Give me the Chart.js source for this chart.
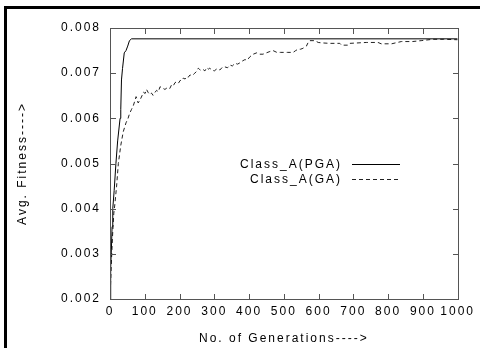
<!DOCTYPE html>
<html>
<head>
<meta charset="utf-8">
<script src="https://cdn.jsdelivr.net/npm/chart.js@4.4.1/dist/chart.umd.min.js"></script>
<style>
  html, body { margin: 0; padding: 0; background: #fff; overflow: hidden; }
  #wrap { position: absolute; left: 0; top: 0; width: 480px; height: 348px; }
  #axes { position: absolute; left: 0; top: 0; width: 480px; height: 348px; pointer-events: none; }
  #axes div { position: absolute; box-sizing: border-box; }
  #axes .box { border: 1px solid #555; }
  #axes .tick { background: #555; }
  #frame { position: absolute; left: 4px; top: 6px; width: 490px; height: 360px; border-left: 3px solid #000; border-top: 3px solid #000; }
</style>
</head>
<body>
<div id="wrap"><canvas id="fitChart"></canvas></div>
<div id="axes"></div>
<div id="frame"></div>
<script>
// ===== data =====
const pgaGen = [0, 2, 4, 6, 8, 12, 17, 22, 29, 31, 33, 36, 41, 46, 51, 56, 62, 1000];
const pgaFit = [0.0020, 0.0027, 0.0031, 0.0036, 0.0040, 0.0044, 0.0050, 0.0055, 0.0060, 0.0062,
                0.00685, 0.0071, 0.00745, 0.0075, 0.0076, 0.00772, 0.00776, 0.00776];

const gaGen = [0, 3, 5, 8, 11, 14, 19, 24, 31, 38, 46, 52, 56, 62, 67, 72, 75, 78, 81, 86,
               92, 96, 101, 105, 110, 114, 119, 124, 129, 134, 139, 144, 151, 158, 165, 172, 177, 182, 187, 192,
               197, 202, 206, 211, 216, 220, 225, 230, 237, 244, 249, 254, 258, 262, 268, 273, 278, 283, 287, 293,
               300, 308, 316, 323, 330, 338, 345, 352, 360, 367, 374, 381, 388, 395, 402, 412, 422, 431, 440, 450,
               460, 469, 480, 490, 498, 510, 527, 534, 541, 548, 555, 565, 570, 575, 589, 599, 610, 632, 661, 666,
               685, 690, 737, 771, 780, 810, 838, 870, 895, 929, 960, 1000];
const gaFit = [0.0020, 0.0026, 0.0030, 0.0035, 0.0039, 0.0041, 0.0045, 0.0050, 0.0054, 0.0057,
               0.0059, 0.0060, 0.0061, 0.0062, 0.00628, 0.0064, 0.00648, 0.00642, 0.00634, 0.0064,
               0.0065, 0.00658, 0.00655, 0.00664, 0.00657, 0.00653, 0.00656, 0.00651, 0.00657, 0.00662,
               0.00659, 0.0067, 0.00667, 0.00664, 0.00668, 0.00666, 0.00674, 0.00672, 0.00679, 0.00681,
               0.00678, 0.00684, 0.00683, 0.00689, 0.00687, 0.00692, 0.00691, 0.00696, 0.00695, 0.0070,
               0.00704, 0.00711, 0.00708, 0.00706, 0.00708, 0.00705, 0.00712, 0.00709, 0.00711, 0.00707,
               0.00705, 0.0071, 0.00707, 0.00713, 0.00714, 0.00712, 0.00718, 0.00716, 0.00722, 0.0072,
               0.00723, 0.00727, 0.0073, 0.00729, 0.00736, 0.00742, 0.00745, 0.00742, 0.00742, 0.00745,
               0.00748, 0.0075, 0.00746, 0.00746, 0.00746, 0.00746, 0.00746, 0.0075, 0.00753, 0.00753,
               0.00755, 0.0076, 0.00768, 0.00772, 0.00772, 0.00768, 0.00767, 0.00766, 0.00766, 0.00762,
               0.00762, 0.00766, 0.00768, 0.00768, 0.00765, 0.00765, 0.0077, 0.0077, 0.00772, 0.00775,
               0.00775, 0.00774];

const seriesLabels = ['Class_A(PGA)', 'Class_A(GA)'];
const xTitle = 'No. of Generations---->';
const yTitle = 'Avg. Fitness---->';

const FONT = '"Liberation Sans", Arial, sans-serif';
const SPACING = '2px'; // the scanned font is much wider than Arial

// wide lettering for every text the chart measures and draws
const spacingPlugin = {
  id: 'spacing',
  beforeUpdate(chart) { chart.ctx.letterSpacing = SPACING; },
  beforeDraw(chart) { chart.ctx.letterSpacing = SPACING; }
};

// gnuplot style key on the canvas
const keyPlugin = {
  id: 'key',
  afterDraw(chart) {
    const ctx = chart.ctx;
    ctx.save();
    ctx.font = '12px ' + FONT;
    ctx.textAlign = 'right';
    ctx.textBaseline = 'middle';
    chart.data.datasets.forEach((ds, i) => {
      const yy = 164.5 + i * 15;
      ctx.fillStyle = '#000';
      ctx.fillText(ds.label, 342, yy);
      ctx.strokeStyle = ds.borderColor;
      ctx.lineWidth = 1;
      ctx.setLineDash(ds.borderDash || []);
      ctx.beginPath();
      ctx.moveTo(352, yy); ctx.lineTo(400, yy);
      ctx.stroke();
    });
    ctx.restore();
  }
};

// box and inward ticks laid over the canvas, placed from the chart's own scales
const boxPlugin = {
  id: 'box',
  afterRender(chart) {
    const host = document.getElementById('axes');
    const { chartArea: a, scales: { x, y } } = chart;
    const el = (cls, l, t, w, h) => {
      const d = document.createElement('div');
      d.className = cls;
      d.style.left = l + 'px'; d.style.top = t + 'px';
      d.style.width = w + 'px'; d.style.height = h + 'px';
      host.appendChild(d);
    };
    host.innerHTML = '';
    const L = Math.round(a.left), T = Math.round(a.top), R = Math.round(a.right), B = Math.round(a.bottom);
    el('box', L, T, R - L + 1, B - T + 1);
    x.ticks.forEach(t => {
      const px = Math.round(x.getPixelForValue(t.value));
      el('tick', px, B - 5, 1, 5);
      el('tick', px, T + 1, 1, 5);
    });
    y.ticks.forEach(t => {
      const py = Math.round(y.getPixelForValue(t.value));
      el('tick', L + 1, py, 5, 1);
      el('tick', R - 5, py, 5, 1);
    });
  }
};

const toPoints = (xs, ys) => xs.map((g, i) => ({ x: g, y: ys[i] }));

new Chart(document.getElementById('fitChart'), {
  type: 'line',
  data: {
    datasets: [
      { label: seriesLabels[0], data: toPoints(pgaGen, pgaFit), borderColor: '#000', borderWidth: 1, pointRadius: 0, tension: 0 },
      { label: seriesLabels[1], data: toPoints(gaGen, gaFit), borderColor: '#222', borderWidth: 1, borderDash: [4, 3], pointRadius: 0, tension: 0 }
    ]
  },
  options: {
    responsive: true,
    maintainAspectRatio: false,
    animation: false,
    layout: { padding: { top: 28, right: 22, left: 0, bottom: 0 } },
    plugins: { legend: { display: false }, tooltip: { enabled: false } },
    scales: {
      x: {
        type: 'linear', min: 0, max: 1000,
        grid: { display: false, drawTicks: false }, border: { display: false },
        ticks: { stepSize: 100, autoSkip: false, padding: 5, color: '#000', font: { family: FONT, size: 12 }, maxRotation: 0, callback: v => String(v) },
        title: { display: true, text: xTitle, color: '#000', font: { family: FONT, size: 12 }, padding: { top: 0, bottom: 2 } },
        afterFit: s => { s.height = 49; }
      },
      y: {
        min: 0.002, max: 0.008,
        grid: { display: false, drawTicks: false }, border: { display: false },
        ticks: { stepSize: 0.001, padding: 9, color: '#000', font: { family: FONT, size: 12 }, callback: v => v.toFixed(3) },
        title: { display: true, text: yTitle, color: '#000', font: { family: FONT, size: 12 }, padding: { top: 15, bottom: 0 } },
        afterFit: s => { s.width = 110; }
      }
    }
  },
  plugins: [spacingPlugin, keyPlugin, boxPlugin]
});
</script>
</body>
</html>
